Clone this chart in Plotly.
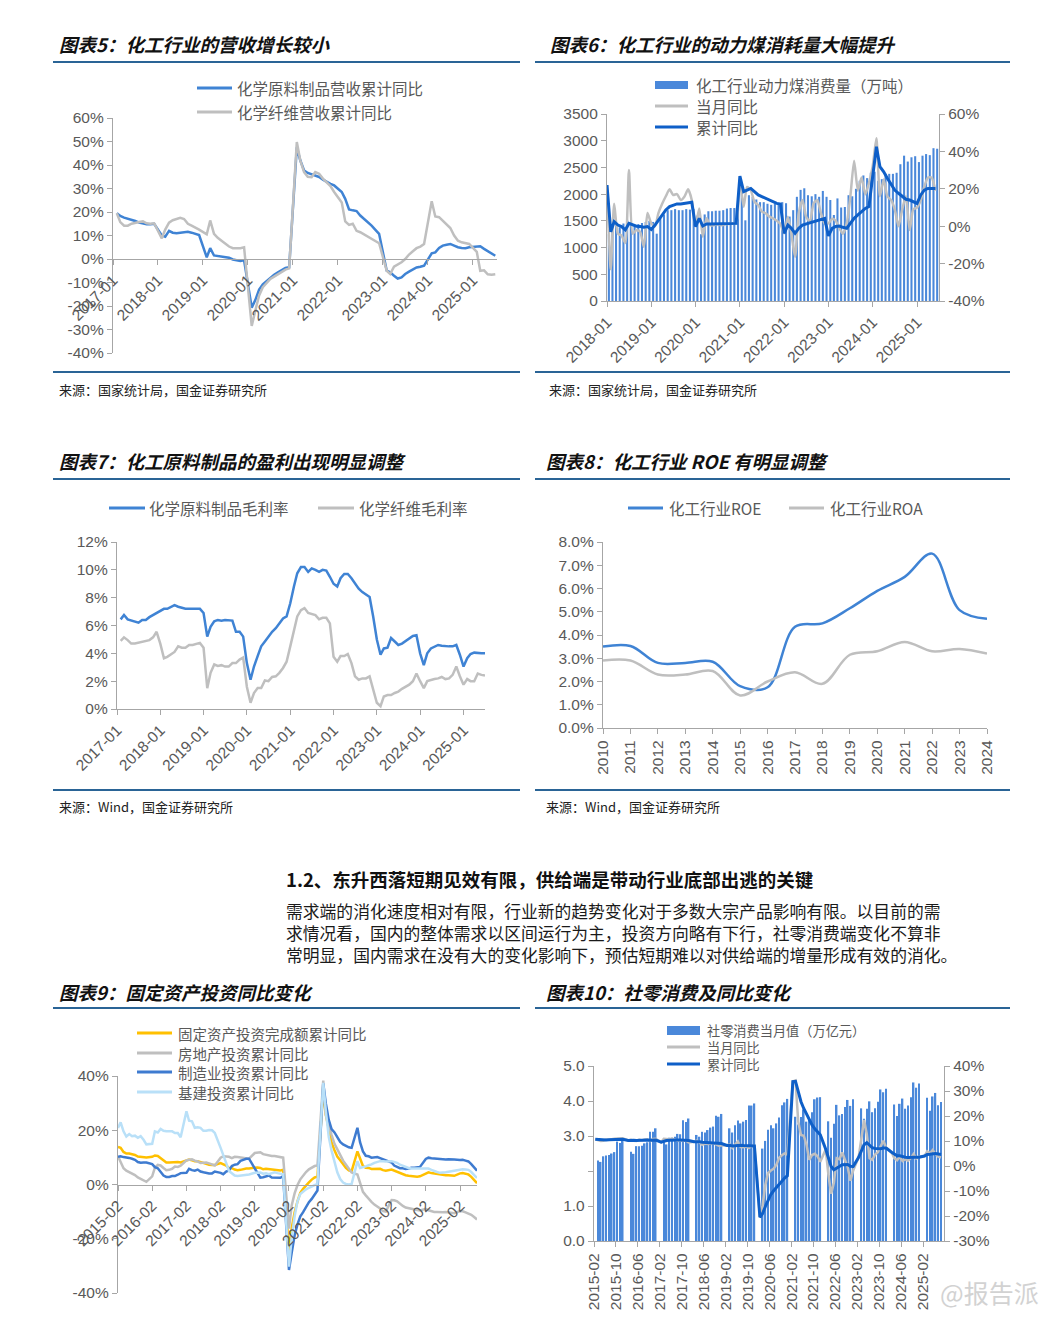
import plotly.graph_objects as go
import pandas as pd

# page is 1060x1320; the html body adds an 8px margin, so the figure is drawn
# 16px smaller and all page-pixel positions are shifted by that margin.
PAGE_OFF = 8
W, H = 1060 - 2 * PAGE_OFF, 1320 - 2 * PAGE_OFF


def X(p):
    return (p - PAGE_OFF) / W


def Y(p):
    return 1 - (p - PAGE_OFF) / H


def months(y0, y1, last_month, first_month=2):
    out = []
    for yr in range(y0, y1 + 1):
        end = last_month if yr == y1 else 12
        for m in range(first_month, end + 1):
            out.append(f"{yr}-{m:02d}-01")
    return out


# ============================ DATA ============================
# 图表5: 营收累计同比 (%), Feb–Dec each year (Jan merged)
c5_dates = months(2017, 2025, 7)
c5_chem = [
    19.5, 18.3, 17.6, 17.2, 16.8, 16.2, 15.5, 15.0, 14.8, 14.8, 15.0,
    10.0, 9.5, 12.0, 11.2, 11.0, 11.2, 11.5, 11.6, 11.2, 10.8, 10.2,
    0.7, 4.6, 1.5, 1.3, 1.2, 1.0, 0.5, -0.2, -0.5, -0.8, -0.5,
    -20.7, -17.5, -13.0, -10.8, -9.3, -7.8, -6.7, -5.7, -4.7, -3.8, -3.5,
    47.5, 42.0, 37.7, 36.6, 36.0, 35.2, 34.9, 33.8, 32.8, 32.0, 31.3,
    28.5, 25.6, 21.1, 20.7, 20.4, 18.5, 17.1, 15.7, 14.2, 12.4, 10.7,
    -5.0, -5.7, -7.1, -8.3, -7.8, -6.4, -5.4, -4.6, -3.6, -3.3, -2.8,
    2.4, 2.8, 4.7, 5.7, 6.1, 6.4, 5.7, 5.0, 4.7, 4.6, 5.0,
    5.3, 5.4, 4.3, 3.3, 2.1, 1.4,
]
c5_fiber = [
    19.5, 15.7, 14.2, 14.2, 15.0, 15.2, 15.7, 16.0, 15.2, 15.0, 15.2,
    8.8, 12.5, 15.5, 16.5, 17.0, 17.5, 17.0, 15.0, 14.2, 13.5, 12.5,
    10.5, 16.4, 10.7, 9.0, 7.8, 6.5, 5.3, 4.6, 4.5, 4.6, 5.0,
    -28.5, -22.0, -15.5, -12.0, -10.0, -8.5, -7.5, -6.5, -5.5, -4.5, -4.0,
    49.8, 42.0, 37.0, 35.0, 34.8, 37.0, 36.3, 34.2, 32.8, 31.0, 28.5,
    24.0, 16.0, 14.5, 15.0, 12.0, 11.4, 10.4, 9.5, 8.8, 7.8, 6.7,
    -5.0, -6.4, -3.3, -2.4, -1.4, 0.0, 1.9, 3.3, 4.6, 5.3, 6.4,
    24.6, 18.1, 17.8, 16.4, 15.0, 13.2, 10.0, 7.8, 7.1, 6.7, 6.4,
    3.0, -5.0, -4.8, -6.5, -6.7, -6.5,
]
c5_ticks = [-40, -30, -20, -10, 0, 10, 20, 30, 40, 50, 60]

# 图表6: 动力煤消费量 (万吨) + 同比 (%)
c6_dates = list(pd.date_range("2018-01-01", "2025-06-01", freq="MS").strftime("%Y-%m-%d"))
c6_coal = [
    1250, 1300, 1420, 1380, 1450, 1520, 1480, 1400, 1440, 1460, 1480, 1500,
    1480, 1260, 1550, 1620, 1700, 1700, 1720, 1700, 1700, 1720, 1710, 1720,
    1600, 1250, 1620, 1680, 1680, 1690, 1690, 1700, 1730, 1740, 1740, 1750,
    2020, 1510, 1980, 1950, 1900, 1850, 1850, 1820, 1800, 1820, 1830, 1850,
    1830, 1580, 1700, 1950, 2080, 2110, 1980, 1960, 2000, 1950, 2060, 1950,
    1890, 1610, 1920, 1750, 1760, 1980, 1960, 2100, 2250, 2350, 2300, 2400,
    2420, 2250, 2280, 2380, 2380, 2380, 2400, 2560, 2720, 2610, 2690, 2710,
    2600, 2720, 2750, 2730, 2860, 2850,
]
c6_month_yoy = [
    22, -23, 12, -4, -5, -9, 30, -4, -2, -3, -11, 7,
    1.5, 0, 7, 12, 16, 19.7, 16.7, 17.2, 14, 15.8, 19.7, 14,
    0, 9.5, -5.6, 4.2, 0.5, 0.6, 1, 0.5, 1, 1.2, 1.5, 1.5,
    24.7, 10.4, 21, 19.3, 13, 11.3, 7.8, 6.9, 5.1, 4.2, 2.9, 1.2,
    -3.8, 5, -3.8, -16.4, 6.9, 14, 5.1, 2.4, 12.2, 14, 6.9, 1.5,
    1.5, 4, 3, -1, -4, 1.5, 16, 35, 19, 26, 17, 23,
    32, 47, 16, 25, 16, 14, 9, 0, 9, 16, -2, 9,
    10, 14, 21, 26, 26, 19,
]
c6_cum_yoy = [
    22, -3, 2.4, 0.6, -0.2, -2, 1.5, 0.6, 0, -0.2, -0.6, -0.2,
    -1.7, 0.6, 3.3, 6, 8.7, 10.5, 11.3, 11.9, 11.9, 12.2, 12.8, 12.8,
    -0.2, 4.2, 0.1, 1.2, 1.2, 1.2, 1.2, 1.2, 1.2, 1.2, 1.3, 1.5,
    26.8, 18.5, 19.3, 20.2, 18.5, 16.7, 15.8, 14.9, 14, 13.1, 12.2, 11.9,
    -3.8, 0.6, -1.1, -3.8, -1.1, 0.6, 1.2, 1.5, 2.2, 2.9, 3.3, 4.2,
    -5.2, -1.1, -0.2, 0.1, -0.6, -1.1, 1.5, 4.2, 6, 7.8, 9.5, 10.5,
    26.5, 42.5, 31.8, 29.1, 25.6, 22, 19.3, 17.6, 15.8, 14.4, 14, 13.1,
    12.2, 16.7, 19.3, 20.2, 20.2, 20.2,
]
c6_right_ticks = [-40, -20, 0, 20, 40, 60]

# 图表7: 毛利率 (%)
c7_dates = list(pd.date_range("2017-02-01", "2025-07-01", freq="MS").strftime("%Y-%m-%d"))
c7_chem_margin = [
    6.44, 6.75, 6.44, 6.35, 6.25, 6.2, 6.4, 6.4, 6.6, 6.75,
    6.9, 7.1, 7.2, 7.2, 7.35, 7.47, 7.35, 7.25, 7.2, 7.2,
    7.2, 7.2, 7.2, 6.9, 5.2, 5.9, 6.3, 6.4, 6.35, 6.4,
    6.35, 6.35, 5.55, 5.55, 5.2, 3.3, 2.1, 3.05, 3.8, 4.5,
    4.85, 5.2, 5.55, 5.8, 6.15, 6.5, 6.65, 7.6, 8.8, 9.75,
    10.2, 10.2, 9.85, 10.1, 10.0, 9.85, 10.0, 9.95, 9.5, 9.0,
    8.8, 9.4, 9.7, 9.7, 9.4, 9.0, 8.65, 8.4, 8.25, 8.05,
    6.65, 5.0, 3.9, 4.35, 4.4, 5.1, 4.85, 4.6, 4.7, 4.9,
    5.1, 5.25, 5.3, 4.0, 3.15, 4.0, 4.35, 4.5, 4.6, 4.55,
    4.5, 4.5, 4.5, 4.6, 3.9, 3.05, 3.65, 3.95, 4.05, 4.0,
    4.0, 4.0,
]
c7_fiber_margin = [
    4.9, 5.15, 4.95, 4.7, 4.7, 4.75, 4.85, 4.85, 4.95, 5.15,
    5.55, 4.7, 3.65, 3.75, 3.95, 4.1, 4.5, 4.4, 4.4, 4.6,
    4.6, 4.65, 4.75, 4.4, 1.5, 2.6, 3.2, 3.1, 3.15, 3.05,
    3.05, 3.3, 3.3, 3.55, 3.7, 1.6, 0.45, 1.15, 1.5, 1.5,
    2.05, 2.0, 2.3, 2.35, 2.6, 2.95, 3.4, 4.5, 5.7, 6.65,
    7.1, 7.25, 6.9, 6.8, 6.75, 6.45, 6.55, 6.55, 6.15, 3.75,
    3.4, 3.8, 3.8, 3.95, 3.3, 2.35, 2.1, 2.2, 2.2, 2.35,
    1.4, 0.45, 0.2, 0.9, 1.0, 1.0, 1.15, 1.25, 1.45, 1.6,
    1.75, 2.0, 2.55, 2.0, 1.5, 2.0, 2.1, 2.15, 2.2, 2.3,
    2.15, 2.2, 2.45, 3.05, 2.35, 1.75, 2.15, 2.0, 2.0, 2.55,
    2.45, 2.4,
]

# 图表8: ROE / ROA (%)
c8_years = [str(y) for y in range(2010, 2025)]
c8_roe = [3.5, 3.53, 2.8, 2.8, 2.85, 1.8, 1.75, 4.35, 4.5, 5.15, 5.9, 6.5, 7.5, 5.07, 4.7]
c8_roa = [2.9, 2.9, 2.3, 2.3, 2.45, 1.4, 2.0, 2.4, 1.9, 3.15, 3.3, 3.7, 3.3, 3.4, 3.2]

# 图表9: 投资累计同比 (%), Feb–Dec each year
c9_dates = months(2015, 2025, 8)
c9_fai = [
    13.9, 13.5, 12.0, 11.4, 11.4, 11.2, 10.9, 10.3, 10.2, 10.2, 10.0,
    10.2, 10.7, 10.5, 9.6, 9.0, 8.1, 8.1, 8.2, 8.3, 8.3, 8.1,
    8.9, 9.2, 8.9, 8.6, 8.6, 8.3, 7.8, 7.5, 7.3, 7.2, 7.2,
    7.9, 7.5, 7.0, 6.1, 6.0, 5.5, 5.3, 5.4, 5.7, 5.9, 5.9,
    6.1, 6.3, 6.1, 5.6, 5.8, 5.7, 5.5, 5.4, 5.2, 5.2, 5.4,
    -24.5, -16.1, -10.3, -6.3, -3.1, -1.6, -0.3, 0.8, 1.8, 2.6, 2.9,
    35.0, 25.6, 19.9, 15.4, 12.6, 10.3, 8.9, 7.3, 6.1, 5.2, 4.9,
    12.2, 9.3, 6.8, 6.2, 6.1, 5.7, 5.8, 5.9, 5.8, 5.3, 5.1,
    5.5, 5.1, 4.7, 4.0, 3.8, 3.4, 3.2, 3.1, 2.9, 2.9, 3.0,
    4.2, 4.5, 4.2, 4.0, 3.9, 3.6, 3.4, 3.4, 3.4, 3.3, 3.2,
    4.1, 4.2, 4.0, 3.7, 2.8, 1.6, 0.5,
]
c9_realestate = [
    10.4, 8.5, 6.0, 5.1, 4.6, 4.3, 3.5, 2.6, 2.0, 1.3, 1.0,
    3.0, 6.2, 7.2, 7.0, 6.1, 5.3, 5.4, 5.8, 6.6, 6.5, 6.9,
    8.9, 9.1, 9.3, 8.8, 8.5, 7.9, 7.9, 8.1, 7.8, 7.5, 7.0,
    9.9, 10.4, 10.3, 10.2, 9.7, 10.2, 10.1, 9.9, 9.7, 9.7, 9.5,
    11.6, 11.8, 11.9, 11.2, 10.9, 10.6, 10.5, 10.5, 10.3, 10.2, 9.9,
    -16.3, -7.7, -3.3, -0.3, 1.9, 3.4, 4.6, 5.6, 6.3, 6.8, 7.0,
    38.3, 25.6, 21.6, 18.3, 15.0, 12.7, 10.9, 8.8, 7.2, 6.0, 4.4,
    3.7, 0.7, -2.7, -4.0, -5.4, -6.4, -7.4, -8.0, -8.8, -9.8, -10.0,
    -5.7, -5.8, -6.2, -7.2, -7.9, -8.5, -8.8, -9.1, -9.3, -9.4, -9.6,
    -9.0, -9.5, -9.8, -10.1, -10.1, -10.2, -10.2, -10.1, -10.3, -10.4, -10.6,
    -9.8, -9.9, -10.3, -10.7, -11.2, -12.0, -12.9,
]
c9_manuf = [
    10.2, 10.4, 10.1, 10.0, 9.8, 9.5, 9.1, 8.3, 8.0, 8.1, 8.1,
    7.5, 6.4, 6.0, 4.6, 3.3, 2.8, 2.8, 3.1, 3.1, 3.6, 4.2,
    4.3, 5.8, 5.3, 5.1, 5.5, 4.8, 4.5, 4.2, 4.1, 4.1, 4.8,
    4.3, 3.8, 4.8, 5.2, 6.8, 7.3, 7.5, 8.7, 9.1, 9.5, 9.5,
    5.9, 4.6, 2.5, 2.7, 3.0, 3.3, 2.6, 2.5, 2.6, 2.5, 3.1,
    -31.5, -25.2, -18.8, -14.8, -11.7, -10.2, -8.1, -6.5, -5.3, -3.5, -2.2,
    37.3, 29.8, 23.8, 20.4, 19.2, 17.3, 15.7, 14.8, 14.2, 13.7, 13.5,
    20.9, 15.6, 12.2, 10.6, 10.4, 9.9, 10.0, 10.1, 9.7, 9.3, 9.1,
    8.1, 7.0, 6.4, 6.0, 6.0, 5.7, 5.9, 6.2, 6.2, 6.3, 6.5,
    9.4, 9.9, 9.7, 9.6, 9.5, 9.3, 9.1, 9.2, 9.3, 9.3, 9.2,
    9.0, 9.1, 8.8, 8.5, 7.5, 6.2, 5.1,
]
c9_infra = [
    20.8, 22.9, 19.6, 17.7, 18.6, 17.8, 18.0, 17.2, 17.8, 16.5, 14.8,
    15.0, 19.6, 19.2, 20.5, 19.8, 19.6, 19.5, 19.6, 19.0, 19.0, 17.4,
    27.0, 23.5, 23.3, 20.9, 21.1, 20.9, 19.8, 19.8, 20.1, 20.0, 19.0,
    13.5, 10.5, 8.0, 5.0, 4.0, 3.3, 3.1, 3.2, 3.4, 3.6, 3.7,
    4.3, 4.4, 4.4, 4.0, 4.1, 3.8, 4.2, 4.5, 4.2, 4.0, 3.8,
    -30.3, -19.7, -11.8, -6.3, -3.5, -2.5, -1.8, -1.2, -0.6, -0.2, 0.2,
    37.5, 27.0, 17.5, 12.5, 8.0, 4.5, 2.0, 0.7, 0.2, 0.0, 0.2,
    8.6, 6.1, 6.3, 6.7, 7.1, 7.4, 8.0, 8.4, 8.6, 8.6, 8.5,
    8.6, 8.4, 8.0, 7.3, 6.8, 6.4, 6.1, 5.9, 5.9, 5.9, 6.1,
    6.0, 5.9, 5.4, 4.9, 4.6, 4.3, 4.3, 4.5, 4.7, 4.9, 5.2,
    5.5, 5.6, 5.5, 5.4, 4.6, 3.5, 2.4,
]
c9_ticks = [-40, -20, 0, 20, 40]

# 图表10: 社零当月值 (万亿元, Mar–Dec) + 同比 (%, Feb–Dec)
c10_bar_dates = months(2015, 2025, 8, first_month=3)
c10_retail = [
    2.30, 2.26, 2.42, 2.44, 2.46, 2.50, 2.54, 2.84, 2.80, 2.92,
    2.55, 2.49, 2.71, 2.71, 2.72, 2.79, 2.82, 3.12, 3.12, 3.22,
    2.82, 2.76, 2.95, 2.95, 2.98, 3.06, 3.05, 3.45, 3.40, 3.50,
    3.03, 2.98, 3.12, 3.10, 3.17, 3.24, 3.27, 3.58, 3.55, 3.63,
    3.22, 3.10, 3.31, 3.44, 3.36, 3.41, 3.46, 3.87, 3.87, 3.93,
    2.64, 2.86, 3.18, 3.31, 3.22, 3.36, 3.53, 3.88, 3.96, 4.06,
    3.55, 3.33, 3.54, 3.76, 3.41, 3.49, 3.68, 4.05, 4.10, 4.11,
    3.42, 2.95, 3.35, 3.89, 3.59, 3.63, 3.83, 4.03, 3.86, 4.05,
    3.79, 3.49, 3.78, 3.99, 3.68, 3.79, 3.98, 4.33, 4.25, 4.35,
    3.90, 3.57, 3.92, 4.07, 3.78, 3.87, 4.11, 4.53, 4.38, 4.50,
    4.09, 3.72, 4.13, 4.23, 3.88, 3.97,
]
c10_line_dates = months(2015, 2025, 8)
c10_month_yoy = [
    10.7, 10.2, 10.0, 10.1, 10.6, 10.5, 10.8, 10.9, 11.0, 11.2, 11.1,
    10.2, 10.5, 10.1, 10.0, 10.6, 10.2, 10.6, 10.7, 10.0, 10.8, 10.9,
    9.5, 10.9, 10.7, 10.7, 11.0, 10.4, 10.1, 10.3, 10.0, 10.2, 9.4,
    9.7, 10.1, 9.4, 8.5, 9.0, 8.8, 9.0, 9.2, 8.6, 8.1, 8.2,
    8.2, 8.7, 7.2, 8.6, 9.8, 7.6, 7.5, 7.8, 7.2, 8.0, 8.0,
    -20.5, -15.8, -7.5, -2.8, -1.8, -1.1, 0.5, 3.3, 4.3, 5.0, 4.6,
    33.8, 34.2, 17.7, 12.4, 12.1, 8.5, 2.5, 4.4, 4.9, 3.9, 1.7,
    6.7, -3.5, -11.1, -6.7, 3.1, 2.7, 5.4, 2.5, -0.5, -5.9, -1.8,
    3.5, 10.6, 18.4, 12.7, 3.1, 2.5, 4.6, 5.5, 7.6, 10.1, 7.4,
    5.5, 3.1, 2.3, 3.7, 2.0, 2.7, 2.1, 3.2, 4.8, 3.0, 3.7,
    4.0, 5.9, 5.1, 6.4, 4.8, 3.7, 3.4,
]
c10_cum_yoy = [
    10.7, 10.6, 10.4, 10.4, 10.4, 10.5, 10.5, 10.5, 10.6, 10.6, 10.7,
    10.2, 10.3, 10.3, 10.2, 10.3, 10.3, 10.3, 10.4, 10.3, 10.4, 10.4,
    9.5, 10.0, 10.2, 10.3, 10.4, 10.4, 10.4, 10.4, 10.3, 10.3, 10.2,
    9.7, 9.8, 9.7, 9.5, 9.4, 9.3, 9.3, 9.3, 9.2, 9.1, 9.0,
    8.2, 8.3, 8.0, 8.1, 8.4, 8.3, 8.2, 8.2, 8.1, 8.0, 8.0,
    -20.5, -19.0, -16.2, -13.5, -11.4, -9.9, -8.6, -7.2, -5.9, -4.8, -3.9,
    33.8, 33.9, 29.6, 25.7, 23.0, 20.7, 18.1, 16.4, 14.9, 13.7, 12.5,
    6.7, 3.3, -0.2, -1.5, -0.7, -0.2, 0.5, 0.7, 0.6, -0.1, -0.2,
    3.5, 5.8, 8.5, 9.3, 8.2, 7.3, 7.0, 6.8, 6.9, 7.2, 7.2,
    5.5, 4.7, 4.1, 4.1, 3.7, 3.5, 3.4, 3.3, 3.5, 3.5, 3.5,
    4.0, 4.6, 4.7, 5.0, 5.0, 4.8, 4.6,
]
c10_left_ticks = [0, 1, 2, 3, 4, 5]
c10_left_labels = ["0.0", "1.0", "", "3.0", "4.0", "5.0"]
c10_right_ticks = [-30, -20, -10, 0, 10, 20, 30, 40]

assert len(c5_dates) == len(c5_chem) == len(c5_fiber)
assert len(c6_dates) == len(c6_coal) == len(c6_month_yoy) == len(c6_cum_yoy)
assert len(c7_dates) == len(c7_chem_margin) == len(c7_fiber_margin)
assert len(c9_dates) == len(c9_fai) == len(c9_realestate) == len(c9_manuf) == len(c9_infra)
assert len(c10_bar_dates) == len(c10_retail)
assert len(c10_line_dates) == len(c10_month_yoy) == len(c10_cum_yoy)


def pct_labels(vals):
    return [f"{v}%" for v in vals]


# ============================ STYLE ============================
CJK = "Noto Sans CJK SC"
NUM = "Liberation Sans, Arial, sans-serif"
AXC = "#A6A6A6"
TXT = "#595959"
BLUE = "#3F83D4"
GRAY = "#BFBFBF"
DARK = "#0E5FC8"
BAR = "#4A88DA"
YELLOW = "#FFC000"
LIGHT = "#B9E0F8"
MFG = "#3E7BD0"
RULE = "#2A6496"

P5 = dict(x=(113, 497), y=(118, 353))
P6 = dict(x=(607, 939), y=(114, 301))
P7 = dict(x=(117, 485), y=(542, 709))
P8 = dict(x=(603, 987), y=(542, 728))
P9 = dict(x=(118, 477), y=(1076, 1293))
P10 = dict(x=(594, 944), y=(1066, 1241))


def xdom(p):
    return [X(p["x"][0]), X(p["x"][1])]


def ydom(p):
    return [Y(p["y"][1]), Y(p["y"][0])]


def zero_pos(p, lo, hi):
    top, bot = p["y"]
    return Y(top + (hi - 0) / (hi - lo) * (bot - top))


def ax(**kw):
    d = dict(showline=True, linecolor=AXC, linewidth=1.3, ticks="outside",
             ticklen=5, tickwidth=1.3, tickcolor=AXC, showgrid=False,
             zeroline=False, fixedrange=True, automargin=False,
             tickfont=dict(family=NUM, size=15.5, color=TXT))
    d.update(kw)
    return d


fig = go.Figure()


def line(x, y, xa, ya, color, width=2.5, shape="linear", smoothing=1.0, **kw):
    ln = dict(color=color, width=width, shape=shape)
    if shape == "spline":
        ln["smoothing"] = smoothing
    fig.add_trace(go.Scatter(x=x, y=y, mode="lines", line=ln, xaxis=xa, yaxis=ya,
                             hoverinfo="skip", **kw))


# Chart 5
line(c5_dates, c5_chem, "x", "y", BLUE)
line(c5_dates, c5_fiber, "x", "y", GRAY)

# Chart 6
fig.add_trace(go.Bar(x=c6_dates, y=c6_coal, xperiod="M1", xperiodalignment="middle",
                     marker=dict(color=BAR, line=dict(width=0)), xaxis="x2", yaxis="y2",
                     hoverinfo="skip"))
line(c6_dates, c6_month_yoy, "x2", "y3", GRAY, 2.5, "spline", 0.6)
line(c6_dates, c6_cum_yoy, "x2", "y3", DARK, 3.0)

# Chart 7
line(c7_dates, c7_chem_margin, "x3", "y4", BLUE)
line(c7_dates, c7_fiber_margin, "x3", "y4", GRAY)

# Chart 8
line(c8_years, c8_roe, "x4", "y5", BLUE, 2.5, "spline", 1.0)
line(c8_years, c8_roa, "x4", "y5", GRAY, 2.5, "spline", 1.0)

# Chart 9
line(c9_dates, c9_fai, "x5", "y6", YELLOW)
line(c9_dates, c9_realestate, "x5", "y6", GRAY)
line(c9_dates, c9_manuf, "x5", "y6", MFG)
line(c9_dates, c9_infra, "x5", "y6", LIGHT)

# Chart 10
fig.add_trace(go.Bar(x=c10_bar_dates, y=c10_retail, xperiod="M1", xperiodalignment="middle",
                     marker=dict(color=BAR, line=dict(width=0)), xaxis="x6", yaxis="y7",
                     hoverinfo="skip"))
line(c10_line_dates, c10_month_yoy, "x6", "y8", GRAY, 2.5,
     xperiod="M1", xperiodalignment="middle")
line(c10_line_dates, c10_cum_yoy, "x6", "y8", DARK, 3.0,
     xperiod="M1", xperiodalignment="middle")

date_x = dict(type="date", tickformat="%Y-%m")

layout = dict(
    template="none",
    width=W, height=H, margin=dict(l=0, r=0, t=0, b=0, pad=0, autoexpand=False),
    autosize=False,
    paper_bgcolor="white", plot_bgcolor="white", showlegend=False, bargap=0.42,
    xaxis=ax(**date_x, domain=xdom(P5), range=["2017-01-01", "2025-07-15"],
             tick0="2017-01-01", dtick="M12", tickangle=-45, anchor="free",
             position=zero_pos(P5, -40, 60)),
    yaxis=ax(domain=ydom(P5), range=[-40, 60], tickvals=c5_ticks,
             ticktext=pct_labels(c5_ticks), anchor="x"),
    xaxis2=ax(**date_x, domain=xdom(P6), range=["2018-01-01", "2025-07-01"],
              tick0="2018-01-01", dtick="M12", tickangle=-45, anchor="y2"),
    yaxis2=ax(domain=ydom(P6), range=[0, 3500], dtick=500, anchor="x2"),
    yaxis3=ax(overlaying="y2", side="right", anchor="x2", range=[-40, 60],
              tickvals=c6_right_ticks, ticktext=pct_labels(c6_right_ticks)),
    xaxis3=ax(**date_x, domain=xdom(P7), range=["2017-01-01", "2025-07-01"],
              tick0="2017-01-01", dtick="M12", tickangle=-45, anchor="y4"),
    yaxis4=ax(domain=ydom(P7), range=[0, 12], dtick=2, ticksuffix="%", anchor="x3"),
    xaxis4=ax(type="category", domain=xdom(P8), range=[0, 14], dtick=1, tickangle=-90,
              anchor="y5"),
    yaxis5=ax(domain=ydom(P8), range=[0, 8], dtick=1, tickformat=".1f", ticksuffix="%",
              anchor="x4"),
    xaxis5=ax(**date_x, domain=xdom(P9), range=["2015-02-01", "2025-08-01"],
              tick0="2015-02-01", dtick="M12", tickangle=-45, anchor="free",
              position=zero_pos(P9, -40, 40)),
    yaxis6=ax(domain=ydom(P9), range=[-40, 40], tickvals=c9_ticks,
              ticktext=pct_labels(c9_ticks), anchor="x5"),
    xaxis6=ax(**date_x, domain=xdom(P10), range=["2015-02-01", "2025-09-19"],
              tick0="2015-02-01", dtick="M8", tickangle=-90, anchor="y7"),
    yaxis7=ax(domain=ydom(P10), range=[0, 5], tickvals=c10_left_ticks,
              ticktext=c10_left_labels, anchor="x6"),
    yaxis8=ax(overlaying="y7", side="right", anchor="x6", range=[-30, 40],
              tickvals=c10_right_ticks, ticktext=pct_labels(c10_right_ticks)),
)
fig.update_layout(**layout)

shapes = []
annotations = []


def hrule(x0, x1, y, color=RULE, width=2):
    shapes.append(dict(type="line", xref="paper", yref="paper", x0=X(x0), x1=X(x1),
                       y0=Y(y), y1=Y(y), line=dict(color=color, width=width)))


def text(x, y, s, size=15, color=TXT, family=CJK, xanchor="left", align="left",
         yanchor="middle"):
    annotations.append(dict(x=X(x), y=Y(y), xref="paper", yref="paper", text=s,
                            showarrow=False, xanchor=xanchor, yanchor=yanchor,
                            align=align, borderpad=0,
                            font=dict(family=family, size=size, color=color)))


def swatch_line(x0, x1, y, color, width=3):
    shapes.append(dict(type="line", xref="paper", yref="paper", x0=X(x0), x1=X(x1),
                       y0=Y(y), y1=Y(y), line=dict(color=color, width=width)))


def swatch_rect(x0, x1, y0, y1, color):
    shapes.append(dict(type="rect", xref="paper", yref="paper", x0=X(x0), x1=X(x1),
                       y0=Y(y1), y1=Y(y0), fillcolor=color, line=dict(width=0)))


def leg_line(x0, x1, y, color, label, tx, width=3, size=15.5):
    swatch_line(x0, x1, y, color, width)
    text(tx, y, label, size=size)


# rules
for y in (62, 479, 1008):
    hrule(53, 520, y)
    hrule(535, 1010, y)
for y in (372, 790):
    hrule(53, 520, y)
    hrule(535, 1010, y)

# titles
TITLE = dict(size=18.5, color="#111111")
text(58, 44, "<b><i>图表5：化工行业的营收增长较小</i></b>", **TITLE)
text(549, 44, "<b><i>图表6：化工行业的动力煤消耗量大幅提升</i></b>", **TITLE)
text(58, 461, "<b><i>图表7：化工原料制品的盈利出现明显调整</i></b>", **TITLE)
text(545, 461, "<b><i>图表8：化工行业 ROE 有明显调整</i></b>", **TITLE)
text(58, 992, "<b><i>图表9：固定资产投资同比变化</i></b>", **TITLE)
text(545, 992, "<b><i>图表10：社零消费及同比变化</i></b>", **TITLE)

# sources
SRC = dict(size=13, color="#222222")
text(58, 390, "来源：国家统计局，国金证券研究所", **SRC)
text(548, 390, "来源：国家统计局，国金证券研究所", **SRC)
text(58, 806, "来源：Wind，国金证券研究所", **SRC)
text(545, 806, "来源：Wind，国金证券研究所", **SRC)

# legends
leg_line(197, 232, 88, BLUE, "化学原料制品营收累计同比", 236)
leg_line(197, 232, 112, GRAY, "化学纤维营收累计同比", 236)

swatch_rect(655, 688, 81, 89, BAR)
swatch_line(655, 688, 106, GRAY)
swatch_line(655, 688, 127, DARK)
text(695, 85, "化工行业动力煤消费量（万吨）", size=15.5)
text(695, 106, "当月同比", size=15.5)
text(695, 127, "累计同比", size=15.5)

leg_line(109, 145, 508, BLUE, "化学原料制品毛利率", 148)
leg_line(318, 354, 508, GRAY, "化学纤维毛利率", 358)

leg_line(628, 663, 508, BLUE, "化工行业ROE", 668)
leg_line(789, 824, 508, GRAY, "化工行业ROA", 829)

leg_line(137, 172, 1033, YELLOW, "固定资产投资完成额累计同比", 177, size=14.5)
leg_line(137, 172, 1053, GRAY, "房地产投资累计同比", 177, size=14.5)
leg_line(137, 172, 1072, MFG, "制造业投资累计同比", 177, size=14.5)
leg_line(137, 172, 1092, LIGHT, "基建投资累计同比", 177, size=14.5)

# chart 10 legend: three rows in one text block (rows 17px apart)
swatch_rect(667, 700, 1026, 1035, BAR)
swatch_line(667, 700, 1047, GRAY)
swatch_line(667, 700, 1064, DARK)
text(706, 1047, "社零消费当月值（万亿元）<br>当月同比<br>累计同比", size=13.2)

# section text
text(285, 879, "<b>1.2、东升西落短期见效有限，供给端是带动行业底部出逃的关键</b>",
     size=18.5, color="#111111")
text(285, 932.5,
     "需求端的消化速度相对有限，行业新的趋势变化对于多数大宗产品影响有限。以目前的需<br>"
     "求情况看，国内的整体需求以区间运行为主，投资方向略有下行，社零消费端变化不算非<br>"
     "常明显，国内需求在没有大的变化影响下，预估短期难以对供给端的增量形成有效的消化。",
     size=16.8, color="#1a1a1a")

# watermark
text(1040, 1311, "@报告派", size=25, color="#D2D2D2", xanchor="right", yanchor="bottom")

fig.update_layout(shapes=shapes, annotations=annotations)
fig.write_html("out.html")
